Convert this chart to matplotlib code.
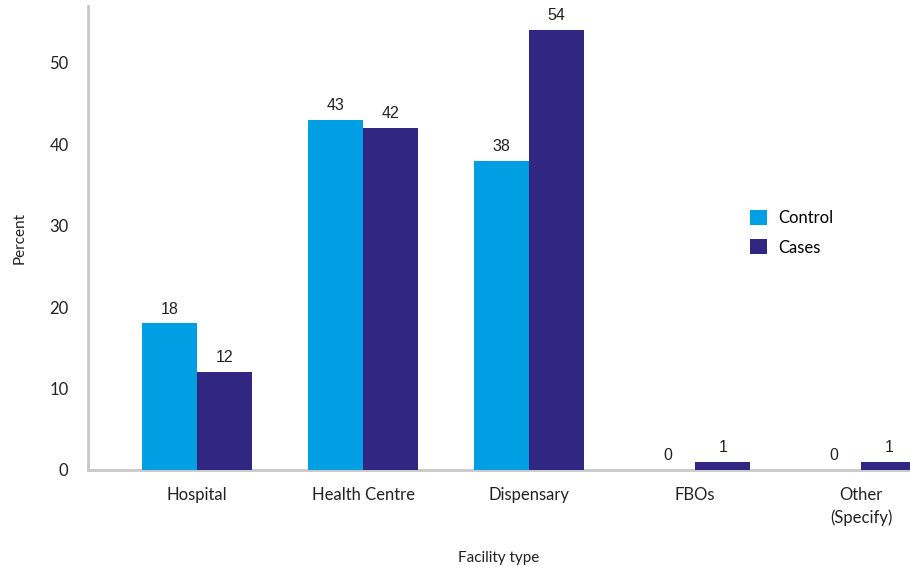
import numpy as np
import matplotlib.pyplot as plt

categories = ["Hospital", "Health Centre", "Dispensary", "FBOs", "Other\n(Specify)"]
control = [18, 43, 38, 0, 0]
cases = [12, 42, 54, 1, 1]

c_control = "#009FE3"
c_cases = "#312783"
grey = "#C8C8C8"

fig = plt.figure(figsize=(9.1, 5.67), dpi=100)
ax = fig.add_axes([88 / 910, 1 - 470 / 567, 1 - 88 / 910, 464 / 567])

x = np.arange(len(categories))
w = 1 / 3
b1 = ax.bar(x - w / 2, control, w, color=c_control, label="Control", zorder=3)
b2 = ax.bar(x + w / 2, cases, w, color=c_cases, label="Cases", zorder=3)

for bars in (b1, b2):
    for rect in bars:
        h = rect.get_height()
        ax.annotate(f"{h:g}", (rect.get_x() + rect.get_width() / 2, h),
                    xytext=(0, 5), textcoords="offset points",
                    ha="center", va="bottom", fontsize=11.5,
                    family="Liberation Sans", color="#222222")

ax.set_xlim(-0.657, 4.295)
ax.set_ylim(0, 57)
ax.set_yticks([0, 10, 20, 30, 40, 50])
ax.set_xticks(x)
ax.set_xticklabels(categories, family="Lato", fontsize=12, linespacing=1.5)
for lbl in ax.get_yticklabels():
    lbl.set_family("Lato")
    lbl.set_fontsize(12)
ax.tick_params(axis="both", length=0, colors="#222222")
ax.tick_params(axis="y", pad=14)
ax.tick_params(axis="x", pad=12)

for s in ("top", "right"):
    ax.spines[s].set_visible(False)
for s in ("left", "bottom"):
    ax.spines[s].set_color(grey)
    ax.spines[s].set_linewidth(2)

ax.set_ylabel("Percent", family="Lato", fontsize=11, labelpad=16, color="#222222")
ax.set_xlabel("Facility type", family="Lato", fontsize=11, labelpad=18, color="#222222")

ax.legend(loc="upper left", bbox_to_anchor=(735 / 910, 1 - 195 / 567),
          bbox_transform=fig.transFigure, frameon=False,
          prop={"family": "Lato", "size": 12}, handlelength=1.0, handleheight=1.0,
          handletextpad=0.7, labelspacing=0.8)

fig.savefig("out.png", dpi=100)
